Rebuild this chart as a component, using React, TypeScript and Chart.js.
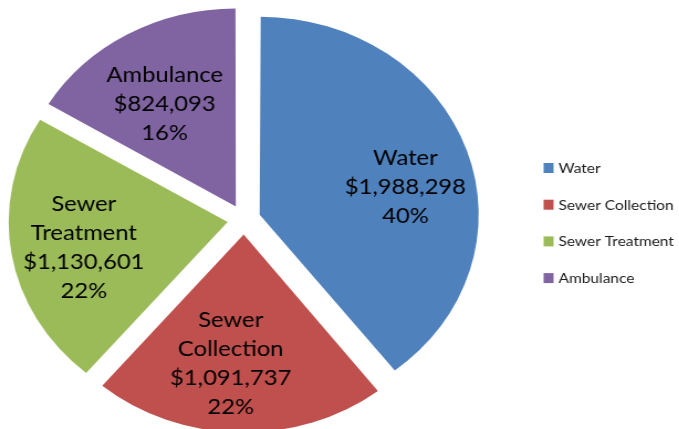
import React, { useEffect, useRef } from "react";
import { Chart, registerables } from "chart.js";

Chart.register(...registerables);

const categories = ["Water", "Sewer Collection", "Sewer Treatment", "Ambulance"];
const amounts = [1988298, 1091737, 1130601, 824093];
const percentLabels = ["40%", "22%", "22%", "16%"];
const colors = ["#4F81BD", "#C0504D", "#9BBB59", "#8064A2"];

const SX = 1.106; // horizontal stretch of the picture
const CW = 614;
const CH = 439;
const EXPLODE = 15;
const RADIUS = 198;
const LABEL_FRAC = 0.65;
const labelNudges = [
  { dx: 10, dy: 14 },
  { dx: -9, dy: 0 },
  { dx: -3, dy: 5 },
  { dx: -1, dy: 10 },
];

// Keep every exploded slice at the same radius (Chart.js grows the radius of wide slices)
const equalRadiusPlugin = {
  id: "equalRadius",
  beforeDatasetsDraw(chart: any) {
    const meta = chart.getDatasetMeta(0);
    meta.data.forEach((arc: any) => {
      const circ = arc.endAngle - arc.startAngle;
      const fix = 1 - Math.sin(Math.min(Math.PI, circ));
      arc.outerRadius = RADIUS - EXPLODE * fix;
    });
  },
};

const sliceLabelPlugin = {
  id: "sliceLabels",
  afterDatasetsDraw(chart: any) {
    const ctx = chart.ctx;
    const meta = chart.getDatasetMeta(0);
    ctx.save();
    ctx.font = "21.5px Lato";
    ctx.fillStyle = "#000000";
    ctx.textAlign = "center";
    ctx.textBaseline = "middle";
    const lineH = 29;
    meta.data.forEach((arc: any, i: number) => {
      const p = arc.getProps(["x", "y", "startAngle", "endAngle"], true);
      const mid = (p.startAngle + p.endAngle) / 2;
      const dist = EXPLODE + LABEL_FRAC * RADIUS;
      const cx = p.x + Math.cos(mid) * dist + labelNudges[i].dx;
      const cy = p.y + Math.sin(mid) * dist + labelNudges[i].dy;
      const lines = [
        ...chart.data.labels[i].split(" "),
        "$" + amounts[i].toLocaleString("en-US"),
        percentLabels[i],
      ];
      const startY = cy - ((lines.length - 1) * lineH) / 2;
      lines.forEach((t: string, k: number) => {
        ctx.fillText(t, cx, startY + k * lineH);
      });
    });
    ctx.restore();
  },
};

const legendPlugin = {
  id: "sideLegend",
  afterDraw(chart: any) {
    const ctx = chart.ctx;
    ctx.save();
    ctx.font = "14px Lato";
    ctx.textBaseline = "middle";
    ctx.textAlign = "left";
    const boxX = 491.5;
    const textX = 505;
    const y0 = 168;
    const step = 36.7;
    chart.data.labels.forEach((lab: string, i: number) => {
      const y = y0 + i * step;
      ctx.fillStyle = chart.data.datasets[0].backgroundColor[i];
      ctx.fillRect(boxX, y - 5, 9, 10);
      ctx.fillStyle = "#1a1a1a";
      ctx.fillText(lab, textX, y + 0.5);
    });
    ctx.restore();
  },
};

export default function App() {
  const ref = useRef<HTMLCanvasElement | null>(null);
  useEffect(() => {
    if (!ref.current) return;
    const chart = new Chart(ref.current, {
      type: "pie",
      data: {
        labels: categories,
        datasets: [
          {
            data: amounts,
            backgroundColor: colors,
            borderWidth: 0,
            offset: EXPLODE * 4,
          } as any,
        ],
      },
      options: {
        responsive: false,
        maintainAspectRatio: false,
        animation: false,
        radius: RADIUS,
        layout: { padding: { left: 0, top: 0, bottom: 0, right: CW - 441.2 } },
        plugins: {
          legend: { display: false },
          tooltip: { enabled: false },
        },
        events: [],
      } as any,
      plugins: [equalRadiusPlugin, sliceLabelPlugin, legendPlugin],
    });
    return () => chart.destroy();
  }, []);
  return (
    <div
      style={{
        position: "fixed",
        left: 0,
        top: 0,
        width: 679,
        height: 429,
        overflow: "hidden",
        background: "#ffffff",
      }}
    >
      <canvas
        ref={ref}
        width={CW}
        height={CH}
        style={{
          display: "block",
          width: CW + "px",
          height: CH + "px",
          transform: `scaleX(${SX})`,
          transformOrigin: "0 0",
        }}
      />
    </div>
  );
}
